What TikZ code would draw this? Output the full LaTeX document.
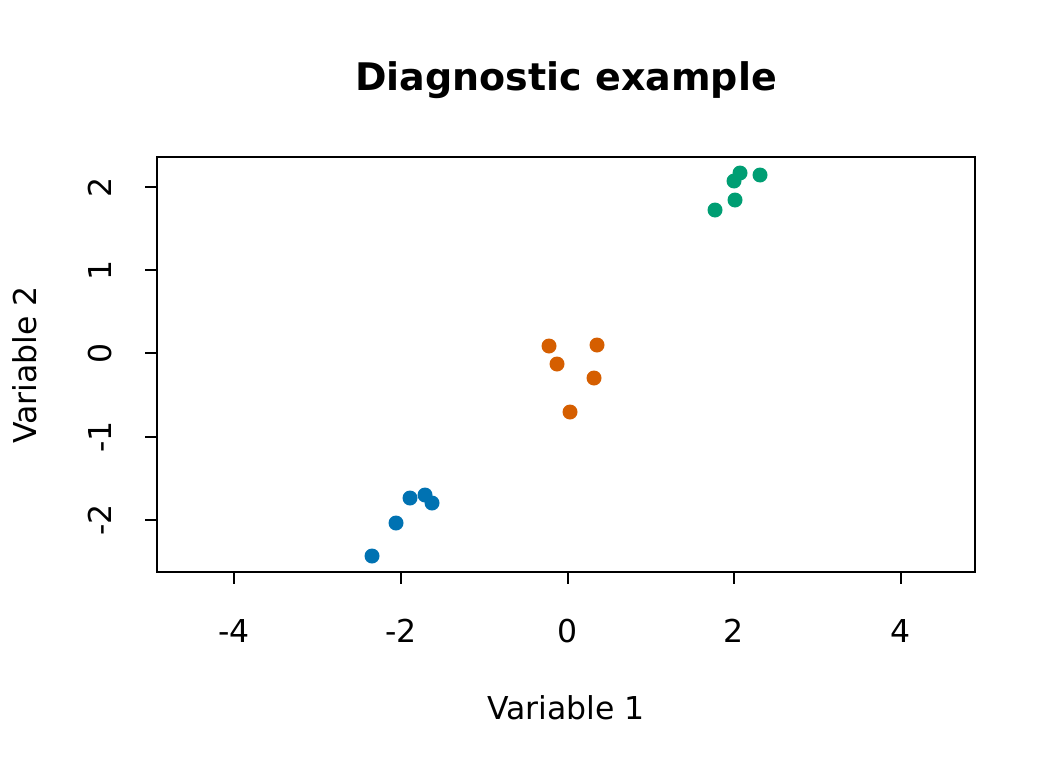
\documentclass[tikz,border=0pt]{standalone}
\usepackage{fontspec}
\setmainfont{DejaVu Sans}
\definecolor{cg}{HTML}{009E73}
\definecolor{co}{HTML}{D55E00}
\definecolor{cb}{HTML}{0072B2}
\begin{document}
\begin{tikzpicture}[x=1pt,y=-1pt,
  lab/.style={font=\fontsize{31.5}{31.5}\selectfont,inner sep=0pt},
  pt/.style={circle,fill=#1,inner sep=0pt,minimum size=15pt}]
\useasboundingbox (0,0) rectangle (1056,768);
\node[font=\fontsize{38}{38}\selectfont\bfseries,inner sep=0pt] (title) at (566,80) {Diagnostic example};
\draw[line width=1.3pt] (157,157) rectangle (975,572);
\foreach \x/\t in {234/-4,401/-2,568/0,734/2,901/4}{
  \draw[line width=1.3pt] (\x,572) -- (\x,584);
  \node[lab] at (\x,631) {\t};}
\foreach \y/\t in {187/2,270/1,353/0,437/-1,520/-2}{
  \draw[line width=1.3pt] (145,\y) -- (157,\y);
  \node[lab,rotate=90] at (100,\y) {\t};}
\node[lab] (xl) at (566,708) {Variable 1};
\node[lab,rotate=90] (yl) at (25,365) {Variable 2};
\foreach \p [count=\i] in {(715,210),(734,181),(740,173),(760,175),(735,200)} \node[pt=cg] (g\i) at \p {};
\foreach \p [count=\i] in {(549,346),(557,364),(597,345),(594,378),(570,412)} \node[pt=co] (o\i) at \p {};
\foreach \p [count=\i] in {(372,556),(396,523),(410,498),(425,495),(432,503)} \node[pt=cb] (b\i) at \p {};
\end{tikzpicture}
\end{document}
